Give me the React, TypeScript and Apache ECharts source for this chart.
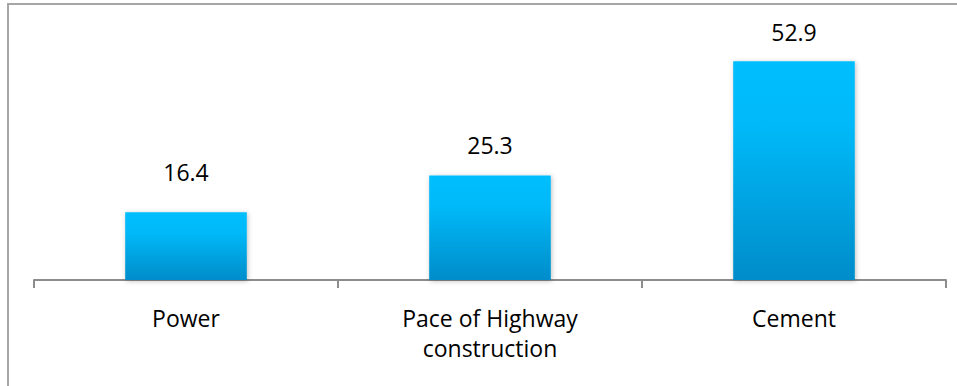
import React, { useEffect, useRef } from "react";
import * as echarts from "echarts";

const categories: string[] = ["Power", "Pace of Highway\nconstruction", "Cement"];
const values: number[] = [16.4, 25.3, 52.9];

// gap between each bar and its value label, in px
const labelGaps: number[] = [29, 19, 18];

export default function App() {
  const ref = useRef<HTMLDivElement>(null);

  useEffect(() => {
    if (!ref.current) return;
    const chart = echarts.init(ref.current, null, { renderer: "svg" });
    const font = "Open Sans";
    chart.setOption({
      animation: false,
      backgroundColor: "#ffffff",
      grid: { left: 34, right: 11, top: 32, bottom: 106, containLabel: false },
      graphic: [
        {
          type: "rect",
          shape: { x: 8, y: 4, width: 970, height: 400 },
          style: { fill: "none", stroke: "#a6a6a6", lineWidth: 2 },
          silent: true,
        },
      ],
      xAxis: {
        type: "category",
        data: categories,
        axisLine: { show: true, lineStyle: { color: "#8c8c8c", width: 2 } },
        axisTick: { show: true, alignWithLabel: false, length: 8, lineStyle: { color: "#8c8c8c", width: 2 } },
        axisLabel: {
          color: "#000000",
          fontFamily: font,
          fontSize: 23,
          lineHeight: 30,
          margin: 23,
          interval: 0,
        },
      },
      yAxis: {
        type: "value",
        min: 0,
        max: 60,
        show: false,
        splitLine: { show: false },
      },
      series: [
        {
          type: "bar",
          data: values.map((v, i) => ({ value: v, label: { distance: labelGaps[i] } })),
          barWidth: "40%",
          itemStyle: {
            color: new echarts.graphic.LinearGradient(0, 0, 0, 1, [
              { offset: 0, color: "#00befe" },
              { offset: 0.3, color: "#00b9f8" },
              { offset: 1, color: "#008cca" },
            ]),
            shadowBlur: 5,
            shadowColor: "rgba(0,0,0,0.25)",
            shadowOffsetX: 1,
            shadowOffsetY: 1,
          },
          label: {
            show: true,
            position: "top",
            color: "#000000",
            fontFamily: font,
            fontSize: 23,
            formatter: (p: any) => Number(p.value).toFixed(1),
          },
        },
      ],
    });
    return () => chart.dispose();
  }, []);

  return (
    <div
      ref={ref}
      style={{ position: "fixed", left: 0, top: 0, width: 957, height: 386 }}
    />
  );
}
